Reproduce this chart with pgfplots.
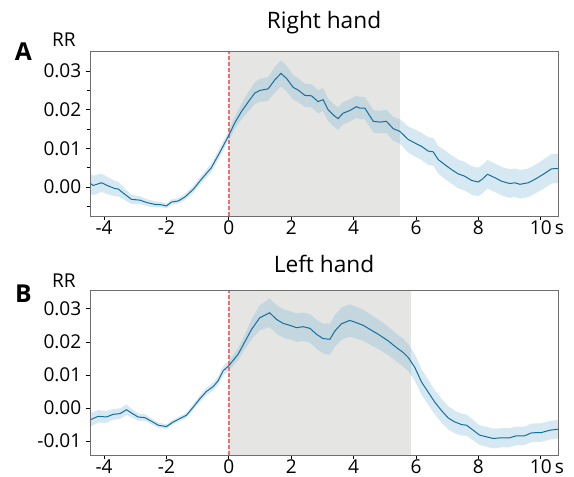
\documentclass[border=0pt]{standalone}
\usepackage{fontspec}
\setmainfont{Open Sans}
\usepackage{pgfplots}
\usepackage{pgfplotstable}
\pgfplotsset{compat=1.18}

\definecolor{linec}{RGB}{22,110,158}
\definecolor{bandc}{RGB}{123,184,213}
\definecolor{shadec}{RGB}{229,230,228}
\definecolor{onsetc}{RGB}{240,110,110}
\definecolor{spinec}{RGB}{110,110,110}

% x, mean, half-width of the band
\pgfplotstableread{
x y e
-4.45 0.0010 0.0026
-4.35 0.0004 0.0025
-4.08 0.0011 0.0024
-3.87 0.0003 0.0022
-3.65 -0.0004 0.0020
-3.55 -0.0005 0.0019
-3.33 -0.0019 0.0015
-3.12 -0.0032 0.0012
-2.85 -0.0034 0.0010
-2.64 -0.0040 0.0009
-2.37 -0.0045 0.0008
-2.16 -0.0046 0.0007
-2.00 -0.0049 0.0006
-1.84 -0.0039 0.0007
-1.62 -0.0036 0.0007
-1.41 -0.0026 0.0008
-1.14 -0.0006 0.0009
-0.88 0.0020 0.0010
-0.56 0.0050 0.0011
-0.24 0.0097 0.0012
0.00 0.0134 0.0013
0.19 0.0166 0.0016
0.41 0.0196 0.0020
0.62 0.0220 0.0025
0.83 0.0243 0.0028
0.99 0.0250 0.0030
1.26 0.0254 0.0031
1.47 0.0277 0.0033
1.67 0.0294 0.0034
1.85 0.0281 0.0033
2.06 0.0258 0.0032
2.22 0.0251 0.0031
2.44 0.0237 0.0030
2.65 0.0236 0.0030
2.86 0.0221 0.0030
3.02 0.0226 0.0030
3.18 0.0200 0.0029
3.34 0.0187 0.0029
3.50 0.0177 0.0029
3.66 0.0191 0.0029
3.88 0.0198 0.0029
4.09 0.0208 0.0029
4.20 0.0204 0.0029
4.36 0.0204 0.0029
4.63 0.0170 0.0029
4.84 0.0168 0.0029
5.05 0.0170 0.0030
5.27 0.0151 0.0031
5.48 0.0144 0.0032
5.75 0.0123 0.0034
5.96 0.0114 0.0035
6.18 0.0105 0.0035
6.39 0.0093 0.0036
6.55 0.0091 0.0036
6.71 0.0071 0.0036
6.92 0.0058 0.0037
7.14 0.0045 0.0037
7.35 0.0034 0.0037
7.56 0.0028 0.0037
7.78 0.0017 0.0037
7.99 0.0013 0.0037
8.12 0.0020 0.0037
8.29 0.0033 0.0037
8.53 0.0024 0.0037
8.74 0.0015 0.0037
9.00 0.0009 0.0037
9.17 0.0011 0.0037
9.33 0.0007 0.0037
9.60 0.0011 0.0037
9.81 0.0020 0.0037
10.08 0.0033 0.0038
10.34 0.0047 0.0038
10.55 0.0048 0.0038
}\rightdata

\pgfplotstableread{
x y e
-4.45 -0.0036 0.0020
-4.19 -0.0025 0.0019
-3.92 -0.0027 0.0018
-3.71 -0.0019 0.0016
-3.49 -0.0017 0.0016
-3.28 -0.0005 0.0016
-3.12 -0.0015 0.0013
-2.91 -0.0027 0.0011
-2.69 -0.0029 0.0010
-2.48 -0.0040 0.0009
-2.26 -0.0052 0.0008
-2.00 -0.0056 0.0007
-1.78 -0.0042 0.0007
-1.57 -0.0032 0.0007
-1.36 -0.0022 0.0008
-1.14 0.0003 0.0009
-0.93 0.0028 0.0010
-0.72 0.0050 0.0011
-0.50 0.0065 0.0012
-0.34 0.0083 0.0013
-0.18 0.0113 0.0014
0.00 0.0128 0.0015
0.30 0.0163 0.0018
0.51 0.0200 0.0022
0.73 0.0238 0.0030
0.99 0.0273 0.0038
1.31 0.0288 0.0043
1.53 0.0268 0.0043
1.74 0.0256 0.0043
1.96 0.0250 0.0043
2.17 0.0243 0.0043
2.38 0.0246 0.0043
2.60 0.0241 0.0043
2.81 0.0223 0.0044
3.02 0.0210 0.0045
3.24 0.0208 0.0047
3.40 0.0233 0.0048
3.61 0.0255 0.0049
3.88 0.0265 0.0049
4.09 0.0258 0.0048
4.31 0.0250 0.0047
4.52 0.0238 0.0046
4.79 0.0223 0.0045
5.11 0.0203 0.0043
5.37 0.0183 0.0042
5.59 0.0168 0.0042
5.75 0.0153 0.0041
5.96 0.0123 0.0040
6.18 0.0078 0.0039
6.39 0.0048 0.0038
6.60 0.0018 0.0037
6.81 -0.0007 0.0036
7.03 -0.0030 0.0035
7.24 -0.0042 0.0034
7.46 -0.0050 0.0033
7.62 -0.0052 0.0032
7.83 -0.0067 0.0031
8.04 -0.0082 0.0030
8.26 -0.0087 0.0030
8.47 -0.0092 0.0030
8.74 -0.0090 0.0029
9.00 -0.0090 0.0029
9.21 -0.0084 0.0028
9.48 -0.0084 0.0028
9.70 -0.0075 0.0028
10.02 -0.0074 0.0028
10.29 -0.0067 0.0028
10.55 -0.0064 0.0028
}\leftdata

\pgfplotsset{
  panel/.style={
    width=351pt, height=123.75pt, scale only axis,
    xmin=-4.45, xmax=10.55,
    xtick={-4,-2,...,10},
    xticklabels={-4,-2,0,2,4,6,8,10\rlap{\,s}},
    scaled y ticks=false,
    tick align=outside, xtick pos=bottom, ytick pos=left,
    major tick length=3pt, minor tick length=2.5pt,
    axis line style={draw=spinec, line width=0.6pt},
    every tick/.style={black, line width=0.6pt},
    ticklabel style={font=\fontsize{14.3}{16}\selectfont},
    xticklabel style={inner sep=0pt, yshift=-0.5pt},
    axis on top,
  },
}

\begin{document}
\begin{tikzpicture}
\path[use as bounding box] (-67.5pt,-195.75pt) rectangle (363pt,162pt);

% Right hand
\begin{axis}[panel, name=top, at={(0,0)}, anchor=south west,
  ymin=-0.0075, ymax=0.0352,
  ytick={0,0.01,0.02,0.03},
  yticklabels={0.00,0.01,0.02,0.03},
  minor ytick={-0.005,0.005,0.015,0.025},
]
\fill[shadec] (axis cs:0,-0.0075) rectangle (axis cs:5.5,0.0352);
\addplot[draw=none, stack plots=y] table[x=x, y expr=\thisrow{y}-\thisrow{e}] {\rightdata};
\addplot[draw=none, fill=bandc, fill opacity=0.31, stack plots=y] table[x=x, y expr=2*\thisrow{e}] {\rightdata} \closedcycle;
\addplot[onsetc, dash pattern=on 3pt off 1.5pt, line width=1.1pt] coordinates {(0,-0.0075) (0,0.0352)};
\addplot[linec, line width=0.75pt] table[x=x, y=y] {\rightdata};
\end{axis}

% Left hand
\begin{axis}[panel, name=bot, at={(0,-179.25pt)}, anchor=south west,
  ymin=-0.0142, ymax=0.0357,
  ytick={-0.01,0,0.01,0.02,0.03},
  yticklabels={-0.01,0.00,0.01,0.02,0.03},
]
\fill[shadec] (axis cs:0,-0.0142) rectangle (axis cs:5.85,0.0357);
\addplot[draw=none, stack plots=y] table[x=x, y expr=\thisrow{y}-\thisrow{e}] {\leftdata};
\addplot[draw=none, fill=bandc, fill opacity=0.31, stack plots=y] table[x=x, y expr=2*\thisrow{e}] {\leftdata} \closedcycle;
\addplot[onsetc, dash pattern=on 3pt off 1.5pt, line width=1.1pt] coordinates {(0,-0.0142) (0,0.0357)};
\addplot[linec, line width=0.75pt] table[x=x, y=y] {\leftdata};
\end{axis}

\node[anchor=base, font=\fontsize{17}{20}\selectfont] at ([yshift=17pt]top.north) {Right hand};
\node[anchor=base, font=\fontsize{17}{20}\selectfont] at ([yshift=13pt]bot.north) {Left hand};
\node[anchor=base, font=\fontsize{14.3}{16}\selectfont] at ([xshift=-19.5pt, yshift=3.2pt]top.north west) {RR};
\node[anchor=base, font=\fontsize{14.3}{16}\selectfont] at ([xshift=-19.5pt, yshift=1.7pt]bot.north west) {RR};
\node[anchor=base, font=\fontsize{18.5}{20}\selectfont\bfseries] at ([xshift=-50pt, yshift=-7.5pt]top.north west) {A};
\node[anchor=base, font=\fontsize{18.5}{20}\selectfont\bfseries] at ([xshift=-50pt, yshift=-9.5pt]bot.north west) {B};
\end{tikzpicture}
\end{document}
